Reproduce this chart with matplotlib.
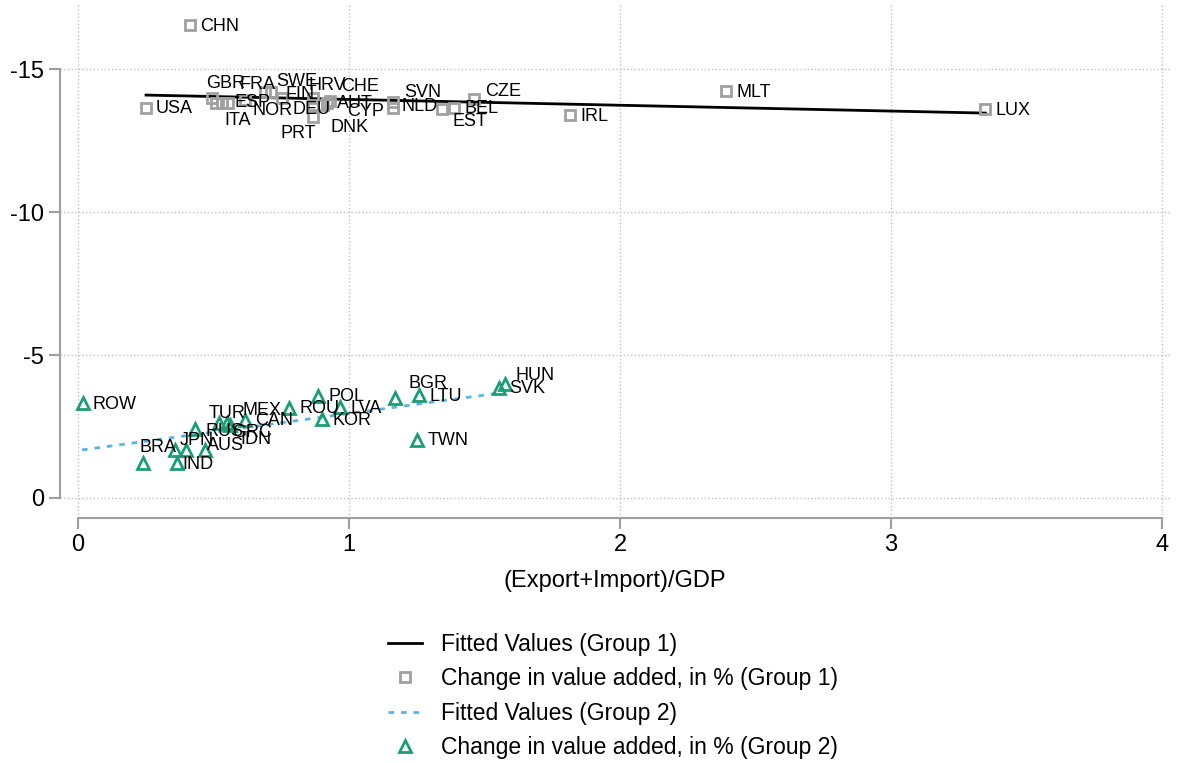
import matplotlib
matplotlib.use('Agg')
import matplotlib.pyplot as plt
from matplotlib.lines import Line2D
import numpy as np

plt.rcParams['font.family'] = ['Liberation Sans', 'DejaVu Sans']

# group 1 (grey squares)
names1 = ['USA', 'CHN', 'GBR', 'ITA', 'ESP', 'FRA', 'NOR', 'SWE', 'FIN', 'DEU', 'HRV', 'PRT',
          'DNK', 'AUT', 'CYP', 'CHE', 'SVN', 'NLD', 'EST', 'BEL', 'CZE', 'IRL', 'MLT', 'LUX']
x1 = [0.251, 0.414, 0.495, 0.510, 0.532, 0.554, 0.617, 0.691, 0.713, 0.753, 0.868, 0.868,
      0.868, 0.905, 0.919, 0.931, 1.163, 1.163, 1.344, 1.388, 1.462, 1.817, 2.393, 3.349]
y1 = [-13.64, -16.54, -13.99, -13.81, -13.81, -13.81, -13.92, -14.20, -14.20, -13.99, -13.99, -13.32,
      -13.74, -13.74, -13.81, -13.88, -13.85, -13.64, -13.60, -13.64, -13.95, -13.39, -14.23, -13.60]
fit1_x = [0.251, 3.349]
fit1_y = [-14.09, -13.46]

# group 2 (green triangles)
names2 = ['ROW', 'BRA', 'IND', 'JPN', 'AUS', 'IDN', 'RUS', 'TUR', 'GRC', 'MEX', 'CAN', 'ROU',
          'POL', 'KOR', 'LVA', 'BGR', 'LTU', 'TWN', 'SVK', 'HUN']
x2 = [0.018, 0.240, 0.366, 0.358, 0.399, 0.469, 0.432, 0.521, 0.550, 0.561, 0.617, 0.779,
      0.886, 0.901, 0.967, 1.171, 1.259, 1.252, 1.555, 1.577]
y2 = [-3.32, -1.22, -1.22, -1.68, -1.68, -1.68, -2.41, -2.62, -2.62, -2.55, -2.73, -3.15,
      -3.57, -2.76, -3.18, -3.50, -3.60, -2.03, -3.85, -3.99]
fit2_x = [0.015, 1.577]
fit2_y = [-1.68, -3.70]

# label offsets in pixels (dx, dy), default right of marker
offsets = {
    'GBR': (-6, 14), 'ITA': (8, -17), 'ESP': (12, 1), 'FRA': (11, 19), 'NOR': (7, -11),
    'SWE': (11, 10), 'FIN': (14, -3), 'DEU': (10, -12), 'HRV': (-5, 12), 'PRT': (-33, -16),
    'DNK': (17, -22), 'AUT': (14, 2), 'CYP': (20, -8), 'CHE': (11, 15), 'SVN': (11, 9),
    'NLD': (8, 1), 'EST': (10, -12), 'CZE': (11, 8),
    'BRA': (-4, 16), 'IND': (5, -1), 'JPN': (5, 9), 'AUS': (21, 4), 'IDN': (35, 10),
    'RUS': (10, -2), 'TUR': (-11, 10), 'GRC': (5, -9), 'MEX': (12, 15), 'BGR': (13, 14),
    'HUN': (10, 8),
}

grey = '#a0a0a0'
green = '#1a9e77'
blue = '#5ab4e6'

fig = plt.figure(figsize=(11.77, 7.63), dpi=100)
ax = fig.add_axes([60/1177, 1-518/763, 1110/1177, 513/763])

ax.plot(fit1_x, fit1_y, color='black', lw=2, zorder=3)
ax.plot(x1, y1, ls='none', marker='s', ms=7, mfc='none', mec=grey, mew=2, zorder=4)
ax.plot(fit2_x, fit2_y, color=blue, lw=2, ls=(0, (2, 2.5)), zorder=3)
ax.plot(x2, y2, ls='none', marker='^', ms=8, mfc='none', mec=green, mew=2, zorder=4)

for names, xs, ys in [(names1, x1, y1), (names2, x2, y2)]:
    for n, xx, yy in zip(names, xs, ys):
        dx, dy = offsets.get(n, (10, -1))
        ax.annotate(n, (xx, yy), xytext=(dx, dy), textcoords='offset pixels',
                    ha='left', va='center', fontsize=13, zorder=5)

ax.set_xlim(-0.0665, 4.03)
ax.set_ylim(0.70, -17.24)
ax.set_xticks([0, 1, 2, 3, 4])
ax.set_yticks([0, -5, -10, -15])
ax.set_yticklabels(['0', '-5', '-10', '-15'])
ax.grid(True, ls=':', color='#c0c0c0', lw=1)
ax.set_axisbelow(True)

for s in ['top', 'right']:
    ax.spines[s].set_visible(False)
ax.spines['left'].set_bounds(-15, 0)
ax.spines['bottom'].set_bounds(0, 4)
for s in ['left', 'bottom']:
    ax.spines[s].set_color(grey)
    ax.spines[s].set_linewidth(1.5)
ax.tick_params(axis='both', colors=grey, labelcolor='black', labelsize=17, length=8, width=1.5)
ax.set_xlabel('(Export+Import)/GDP', fontsize=17, labelpad=10)

handles = [
    Line2D([], [], color='black', lw=2),
    Line2D([], [], ls='none', marker='s', ms=7, mfc='none', mec=grey, mew=2),
    Line2D([], [], color=blue, lw=2, ls=(0, (2, 2.5))),
    Line2D([], [], ls='none', marker='^', ms=8, mfc='none', mec=green, mew=2),
]
labels = ['Fitted Values (Group 1)', 'Change in value added, in % (Group 1)',
          'Fitted Values (Group 2)', 'Change in value added, in % (Group 2)']
fig.legend(handles, labels, loc='upper left', bbox_to_anchor=(367/1177, 1-612/763),
           frameon=False, fontsize=16.5, handlelength=1.5, labelspacing=0.5, handletextpad=0.83)

fig.savefig('out.png', dpi=100)
